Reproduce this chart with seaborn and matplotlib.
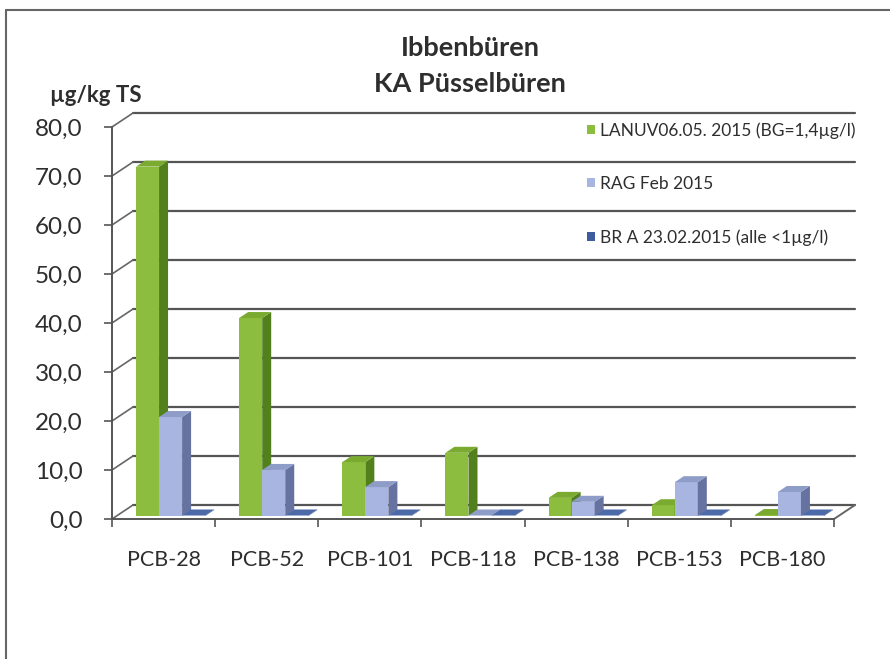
import numpy as np
import pandas as pd
import matplotlib
matplotlib.use('Agg')
import matplotlib.pyplot as plt
from matplotlib.patches import Polygon, Patch
import seaborn as sns

# Werte (µg/kg TS)
kongenere = ['PCB-28', 'PCB-52', 'PCB-101', 'PCB-118', 'PCB-138', 'PCB-153', 'PCB-180']
serien = ['LANUV06.05. 2015 (BG=1,4µg/l)', 'RAG Feb 2015', 'BR A 23.02.2015 (alle <1µg/l)']
lanuv = [71.3, 40.4, 11.0, 12.9, 3.7, 2.2, 0.2]
rag = [20.2, 9.4, 5.9, 0.1, 2.9, 6.9, 4.9]
bra = [0.1, 0.1, 0.1, 0.1, 0.1, 0.1, 0.1]
y_ticks = [0, 10, 20, 30, 40, 50, 60, 70, 80]

farben_front = ['#8cbd3f', '#a7b5e0', '#3f5c9e']
farben_seite = ['#52801c', '#66729f', '#2a3e70']
farben_oben = ['#7aab30', '#8e9cc8', '#4d6aa8']

df = pd.DataFrame({
    'kongener': kongenere * 3,
    'serie': [serien[0]] * 7 + [serien[1]] * 7 + [serien[2]] * 7,
    'wert': lanuv + rag + bra,
})

sns.set_style('white')
plt.rcParams['font.family'] = ['Lato', 'DejaVu Sans']
textfarbe = '#2e2e2e'

fig = plt.figure(figsize=(8.9, 6.59), dpi=100)
W, H = 890, 659
# Vorderebene der 3D-Grafik in Pixeln
x0, x1, y0, y1 = 112, 834, 519, 127
ax = fig.add_axes([x0 / W, (H - y0) / H, (x1 - x0) / W, (y0 - y1) / H])

sns.barplot(data=df, x='kongener', y='wert', hue='serie', palette=farben_front,
            width=0.67, saturation=1, legend=False, ax=ax)
ax.set_xlim(-0.5, 6.5)
ax.set_ylim(0, 80)

# Pixel -> Dateneinheiten
px_x = 7.0 / (x1 - x0)
px_y = 80.0 / (y0 - y1)
DX, DY = 21 * px_x, 14 * px_y      # Tiefe der Wand
bx, by = 7 * px_x, 3 * px_y        # Position der Säulen in der Tiefe
sx, sy = 9 * px_x, 6 * px_y        # Säulentiefe

# Rückwand-Gitterlinien und linke Seitenwand
for yt in y_ticks:
    ax.plot([-0.5 + DX, 6.5 + DX], [yt + DY, yt + DY], color='#555555', lw=1.6,
            clip_on=False, zorder=1)
    ax.plot([-0.5, -0.5 + DX], [yt, yt + DY], color='#666666', lw=1.2,
            clip_on=False, zorder=1)
# Boden rechts
ax.plot([6.5, 6.5 + DX], [0, DY], color='#666666', lw=1.4, clip_on=False, zorder=1)

# 3D-Säulen aus den seaborn-Balken
for i, cont in enumerate(ax.containers):
    for bar in cont:
        x = bar.get_x() + bx
        w = bar.get_width()
        h = bar.get_height()
        bar.set_x(x)
        bar.set_y(by)
        bar.set_zorder(3 + i)
        bar.set_edgecolor('none')
        b = by
        seite = Polygon([(x + w, b), (x + w + sx, b + sy), (x + w + sx, b + h + sy), (x + w, b + h)],
                        closed=True, facecolor=farben_seite[i], edgecolor='none',
                        zorder=3 + i, clip_on=False)
        oben = Polygon([(x, b + h), (x + sx, b + h + sy), (x + w + sx, b + h + sy), (x + w, b + h)],
                       closed=True, facecolor=farben_oben[i], edgecolor='none',
                       zorder=3 + i, clip_on=False)
        ax.add_patch(seite)
        ax.add_patch(oben)

# Achsen
for s in ['top', 'right']:
    ax.spines[s].set_visible(False)
for s in ['left', 'bottom']:
    ax.spines[s].set_color('#555555')
    ax.spines[s].set_linewidth(1.4)

ax.set_yticks(y_ticks)
ax.set_yticklabels([f'{v:.1f}'.replace('.', ',') for v in y_ticks])
ax.tick_params(axis='y', direction='out', length=6, width=1.2, color='#555555',
               left=True, pad=15, labelsize=17.5, labelcolor=textfarbe)

ax.set_xticks(np.arange(-0.5, 7, 1))
ax.set_xticklabels([])
ax.set_xticks(range(7), minor=True)
ax.set_xticklabels(kongenere, minor=True)
ax.tick_params(axis='x', which='major', direction='out', length=6, width=1.2,
               color='#555555', bottom=True)
ax.tick_params(axis='x', which='minor', length=0, pad=22, labelsize=15.5,
               labelcolor=textfarbe)
ax.set_xlabel('')
ax.set_ylabel('')
ax.grid(False)

# Titel und Einheit
fig.text(470 / W, 1 - 48 / H, 'Ibbenbüren', ha='center', va='center',
         fontsize=19.5, fontweight='bold', color=textfarbe)
fig.text(470 / W, 1 - 84 / H, 'KA Püsselbüren', ha='center', va='center',
         fontsize=19.5, fontweight='bold', color=textfarbe)
fig.text(50 / W, 1 - 96 / H, 'µg/kg TS', ha='left', va='center',
         fontsize=16, fontweight='bold', color=textfarbe)

# Legende
handles = [Patch(facecolor=c, edgecolor='none') for c in farben_front]
fig.legend(handles, serien, loc='upper left', bbox_to_anchor=(587 / W, 1 - 122 / H),
           frameon=False, fontsize=12.5, handlelength=0.45, handleheight=0.45,
           handletextpad=0.3, labelspacing=2.15, borderpad=0, borderaxespad=0,
           labelcolor=textfarbe)

# Rahmen
fig.add_artist(plt.Line2D([6 / W, 6 / W], [0, 1 - 10 / H], color='#666666', lw=1.5))
fig.add_artist(plt.Line2D([6 / W, 1], [1 - 10 / H, 1 - 10 / H], color='#666666', lw=1.5))

fig.savefig('out.png', dpi=100)
